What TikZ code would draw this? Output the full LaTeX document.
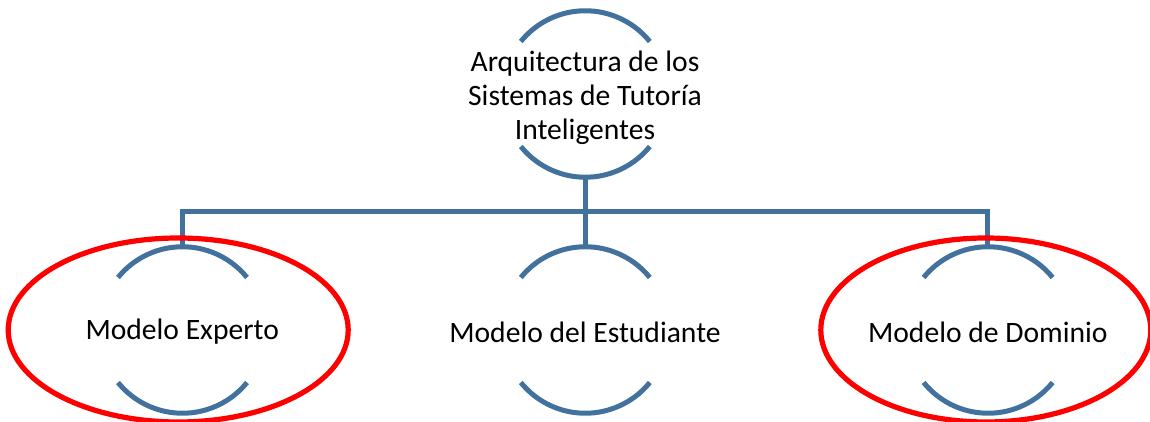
\documentclass[tikz,border=0pt]{standalone}
\usepackage{fontspec}
\setmainfont{Carlito}
\usetikzlibrary{positioning}

\definecolor{smartblue}{RGB}{65,113,156}

\begin{document}
\begin{tikzpicture}[x=1pt,y=1pt]

        \def\r{41.5pt}
        \def\d{201pt}

        % Styles for the rings, the links and the marks
        \tikzset{
            ring/.style={circle, minimum size=2*\r, inner sep=0pt},
            label text/.style={font=\fontsize{14.8}{17}\selectfont, align=center},
            link/.style={draw=smartblue, line width=2.5pt},
            arcline/.style={draw=smartblue, line width=2.5pt},
            highlight/.style={draw=red, line width=2.6pt}
        }

        \useasboundingbox (0,0) rectangle (575,211);

        % Rings placed from the top one
        \begin{scope}
            \node[ring] (arch) at (292.5,164) {};
            \node[ring] (stud) at (292.5,46) {};
            \node[ring] (exp) [left=\d-2*\r of stud] {};
            \node[ring] (dom) [right=\d-2*\r of stud] {};
        \end{scope}

        \node[label text] (arch-txt) at ([yshift=-2pt]arch.center)
        {Arquitectura de los\\Sistemas de Tutoría\\Inteligentes};
        \node[label text] (exp-txt) at ([yshift=-1pt]exp.center) {Modelo Experto};
        \node[label text] (stud-txt) at ([yshift=-1pt]stud.center) {Modelo del Estudiante};
        \node[label text] (dom-txt) at ([yshift=-1pt]dom.center) {Modelo de Dominio};

        % Upper and lower arcs of every ring
        \foreach \n in {arch,exp,stud,dom} {
            \draw[arcline] (\n.39) arc[start angle=39, end angle=141, radius=\r];
            \draw[arcline] (\n.-39) arc[start angle=-39, end angle=-141, radius=\r];
        }

        \begin{scope}[link]
            \draw (arch.south) -- ++(0,-17) -| (exp.north);
            \draw (arch.south) -- (stud.north);
            \draw (arch.south) -- ++(0,-17) -| (dom.north);
        \end{scope}

        % Marked models
        \draw[highlight] ([xshift=-2pt]exp.center) ellipse[x radius=85pt, y radius=46pt];
        \draw[highlight] ([xshift=-1pt]dom.center) ellipse[x radius=82.5pt, y radius=46pt];

        \end{tikzpicture}
\end{document}
